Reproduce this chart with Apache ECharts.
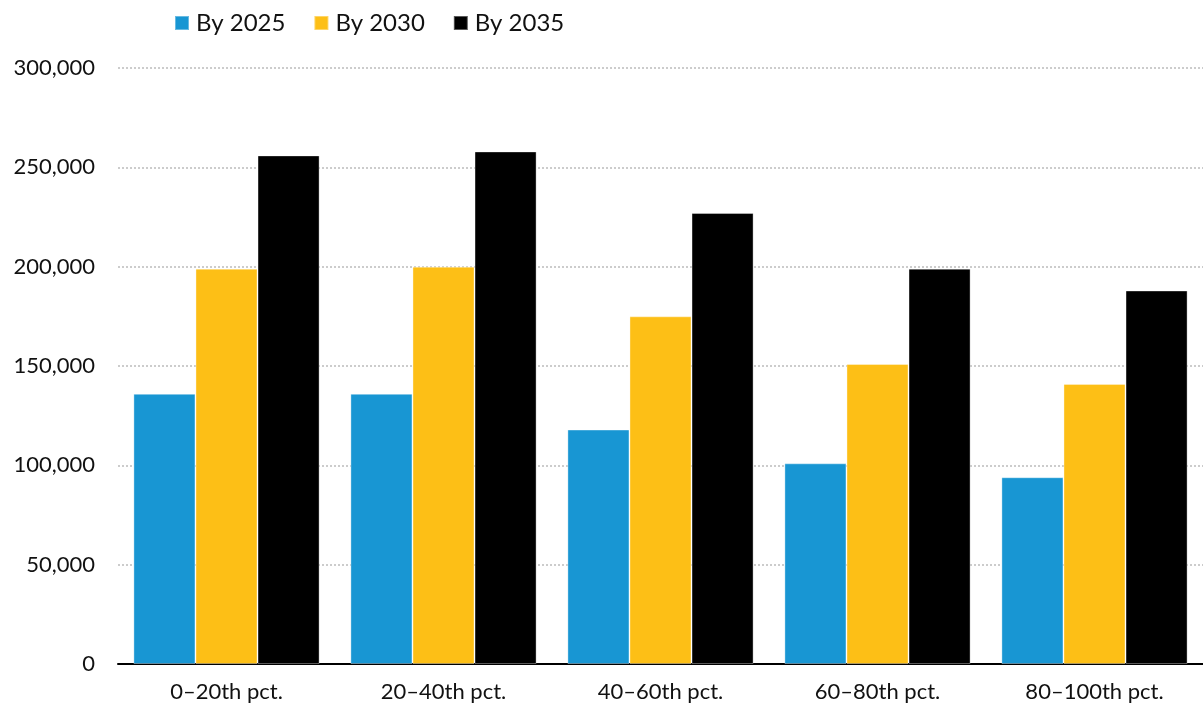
<!DOCTYPE html>
<html>
<head>
<meta charset="utf-8">
<script src="https://cdn.jsdelivr.net/npm/echarts@6/dist/echarts.min.js"></script>
<style>
  html, body { margin: 0; padding: 0; background: #fff; }
  #chart { width: 1203px; height: 707px; }
</style>
</head>
<body>
<div id="chart"></div>
<script>
const categories = ['0–20th pct.', '20–40th pct.', '40–60th pct.', '60–80th pct.', '80–100th pct.'];
const seriesNames = ['By 2025', 'By 2030', 'By 2035'];
const by2025 = [136000, 136000, 118000, 101000, 94000];
const by2030 = [199000, 200000, 175000, 151000, 141000];
const by2035 = [256000, 258000, 227000, 199000, 188000];
const seriesColors = ['#1896d3', '#fdbf16', '#000000'];

const values = [by2025, by2030, by2035];
const font = 'Lato, "Noto Sans", sans-serif';

const chart = echarts.init(document.getElementById('chart'), null, { renderer: 'canvas' });
chart.setOption({
  animation: false,
  textStyle: { fontFamily: font },
  legend: {
    top: 11,
    left: 174,
    padding: 0,
    itemWidth: 14,
    itemHeight: 14,
    itemGap: 28,
    icon: 'rect',
    textStyle: { fontSize: 24, color: '#111', fontFamily: font, padding: [0, 0, 0, 2] },
    data: seriesNames
  },
  // the plot runs slightly past the right edge of the canvas
  grid: { left: 118, width: 1091, top: 68, bottom: 43, containLabel: false },
  xAxis: {
    type: 'category',
    data: categories,
    axisLine: { lineStyle: { color: '#000', width: 2 } },
    axisTick: { show: false },
    axisLabel: { fontSize: 22, color: '#111', margin: 17, fontFamily: font }
  },
  yAxis: {
    type: 'value',
    min: 0,
    max: 300000,
    interval: 50000,
    axisLine: { show: false },
    axisTick: { show: false },
    axisLabel: {
      fontSize: 22, color: '#111', margin: 23, fontFamily: font,
      formatter: v => v.toLocaleString('en-US')
    },
    splitLine: { lineStyle: { color: '#cccccc', type: [2, 2], width: 2 } }
  },
  series: seriesNames.map((name, i) => ({
    name,
    type: 'bar',
    data: values[i],
    barGap: '0%',
    barCategoryGap: '14.2%',
    itemStyle: { color: seriesColors[i], borderColor: 'rgba(255,255,255,0.35)', borderWidth: 1 }
  }))
});
</script>
</body>
</html>
